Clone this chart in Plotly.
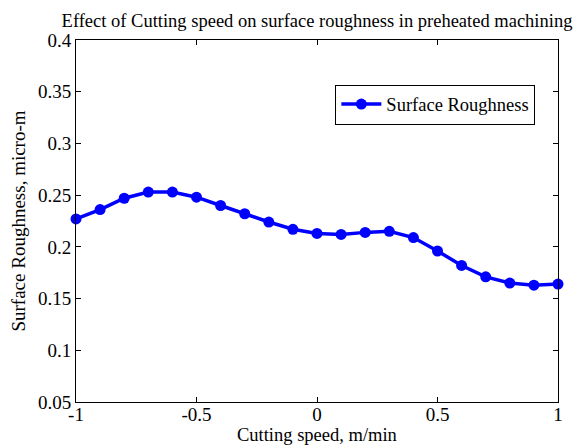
import plotly.graph_objects as go

speed = [-1.0, -0.9, -0.8, -0.7, -0.6, -0.5, -0.4, -0.3, -0.2, -0.1, 0.0,
         0.1, 0.2, 0.3, 0.4, 0.5, 0.6, 0.7, 0.8, 0.9, 1.0]
roughness = [0.227, 0.236, 0.247, 0.253, 0.253, 0.248, 0.240, 0.232, 0.224, 0.217, 0.213,
             0.212, 0.214, 0.215, 0.209, 0.196, 0.182, 0.171, 0.165, 0.163, 0.164]
xticks = [-1, -0.5, 0, 0.5, 1]
xtick_labels = ["-1", "-0.5", "0", "0.5", "1"]
yticks = [0.05, 0.1, 0.15, 0.2, 0.25, 0.3, 0.35, 0.4]
ytick_labels = ["0.05", "0.1", "0.15", "0.2", "0.25", "0.3", "0.35", "0.4"]

font = "Liberation Serif, Times New Roman, serif"
fs = 19

fig = go.Figure()
fig.add_trace(go.Scatter(
    x=speed, y=roughness, mode="lines+markers", name="Surface Roughness",
    line=dict(color="#0000ff", width=3.5),
    marker=dict(symbol="circle", size=11, color="#0000ff"),
    cliponaxis=False,
))

axis_common = dict(
    showgrid=False, zeroline=False, showline=True, linecolor="black", linewidth=1,
    mirror="ticks", ticks="inside", ticklen=5, tickcolor="black",
    tickfont=dict(family=font, size=fs, color="black"),
    automargin=False,
)

fig.update_layout(
    width=582, height=447,
    paper_bgcolor="white", plot_bgcolor="white",
    margin=dict(l=68, r=32, t=32, b=53),
    title=dict(text="Effect of Cutting speed on surface roughness in preheated machining",
               font=dict(family=font, size=18.5, color="black"),
               x=0.5, xanchor="center", xref="paper",
               y=0.972, yref="container", yanchor="middle"),
    xaxis=dict(range=[-1, 1], tickvals=xticks, ticktext=xtick_labels, ticklabelstandoff=-5,
               **axis_common),
    yaxis=dict(range=[0.05, 0.4], tickvals=yticks, ticktext=ytick_labels,
               title=dict(text="Surface Roughness, micro-m", font=dict(family=font, size=fs, color="black"),
                          standoff=8),
               **axis_common),
    legend=dict(x=0.953, xanchor="right", y=0.877, yanchor="top",
                bordercolor="black", borderwidth=1, bgcolor="white",
                font=dict(family=font, size=18.5, color="black"),
                itemwidth=40, tracegroupgap=0),
    showlegend=True,
)

fig.add_annotation(text="Cutting speed, m/min", xref="paper", yref="paper",
                   x=0.5, y=0, xanchor="center", yanchor="top", yshift=-21,
                   showarrow=False, font=dict(family=font, size=18.5, color="black"))

fig.write_html("out.html")
